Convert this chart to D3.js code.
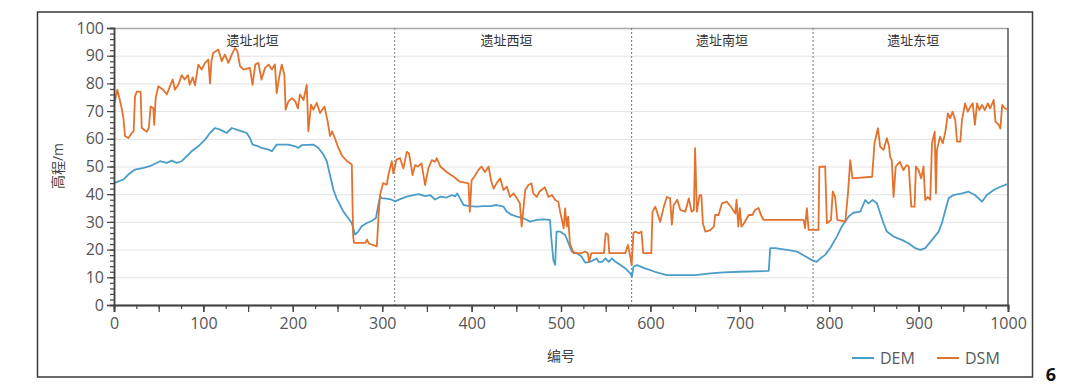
<!DOCTYPE html>
<html>
<head>
<meta charset="utf-8">
<script src="https://cdn.jsdelivr.net/npm/d3@7"></script>
<style>
  body { margin: 0; background: #fff; }
  svg text { font-family: "Open Sans", "Noto Sans CJK SC", sans-serif; }
</style>
</head>
<body>
<div id="content"></div>
<script>
// section names and their label centres / divider positions (in 编号 units)
let sectionNames = ["遗址北垣", "遗址西垣", "遗址南垣", "遗址东垣"];
let sectionCenters = [155, 439, 680, 894];
let sectionDividers = [314, 579, 782];

let xTicks = [0, 100, 200, 300, 400, 500, 600, 700, 800, 900, 1000];
let yTicks = [0, 10, 20, 30, 40, 50, 60, 70, 80, 90, 100];

// DEM profile, [编号, 高程]
let demPoints = [[0,44],[10.5,45.3],[16,47.1],[23.5,48.9],[33,49.5],[40,50.1],[51.5,51.9],[59,51.3],[64.6,52.1],[70,51.3],[75.7,51.9],[79.4,53.1],[86.8,55.5],[94.3,57.3],[101.8,59.7],[107.4,62.1],[113,63.9],[118.6,63.3],[122.4,62.7],[126,62.1],[131.7,63.9],[137.3,63.3],[142.9,62.7],[148.5,62.1],[152,60.3],[155,57.9],[161.6,57.3],[165,56.7],[173,56.1],[176.6,55.5],[182,57.9],[195,57.9],[202.8,57.3],[206,56.7],[210,57.7],[223,57.9],[228.7,56.7],[234.3,54.3],[238,51.9],[240.6,48.3],[242.8,45.3],[245.4,41.6],[249,38.5],[252.8,36.1],[256.6,33.7],[262,31.4],[265.9,29.6],[269.7,25.4],[273.4,26.6],[277,28.4],[282.9,29.6],[288.5,30.4],[293,31.4],[295,35],[297.6,39.2],[299.5,38.6],[305,38.4],[310.7,38],[314.5,37.4],[320,38.2],[327.5,39.1],[335,39.7],[340.6,40],[348,39.3],[353.6,39.7],[359,38.1],[365,39.1],[372,38.8],[378,39.7],[381.7,39.3],[384,40.3],[387,38.5],[391,36.1],[398,35.7],[405.6,35.5],[413,35.7],[420.6,35.7],[428,36.1],[435.7,35.5],[439.4,33.7],[445,32.5],[450.7,31.9],[458,31.3],[465.5,30.1],[473,30.7],[480.5,30.9],[487.7,30.7],[489,24.7],[491.5,16.2],[493.5,14.5],[495,26.5],[499,26.5],[504.6,25.3],[508.4,22.3],[512,19.3],[517.6,18.7],[523,17.5],[527,15.3],[532.6,15.6],[536.4,16.2],[540,16.8],[542,15.6],[546,15.6],[549.7,16.8],[553.5,15.6],[557,16.8],[561,15.6],[566.6,14.4],[572,13.2],[577.5,11.4],[579.3,10.2],[581,13.8],[585,14.4],[594,13.2],[605,12],[618.4,10.8],[650,10.8],[667,11.4],[682,11.8],[700.7,12],[732.4,12.3],[734,20.5],[739.7,20.5],[753,19.9],[764,19.3],[773.6,17.5],[780.7,16.2],[786,15.6],[790,16.8],[795.5,18.1],[801,20.5],[808.6,24.7],[814,28.3],[821.6,31.9],[827,33.3],[834.8,33.7],[840.3,37.9],[844,36.7],[848.5,37.9],[853.4,36.7],[857,33.1],[860.8,29.5],[864.5,26.5],[872,24.7],[881.3,23.5],[888.7,22.3],[896.3,20.5],[902,19.9],[907.4,20.5],[915,23.5],[922.4,26.5],[926,29.5],[930,34.3],[933.6,38.5],[939,39.7],[948.5,40.3],[956,40.9],[963,39.7],[971,37.3],[976.3,39.7],[984,41.5],[991.5,42.7],[1000,43.7]];

// DSM profile, [编号, 高程]
let dsmPoints = [[0,72],[3.7,77.7],[6,74.7],[8.6,71],[10.5,67.5],[12.3,61],[16,60.3],[19.8,62],[22,62.8],[23.5,75.3],[25.4,77],[29.8,77],[31,64],[36.6,62.5],[39,64],[41,71.7],[44,71],[45,65],[46.6,74.7],[49.6,79],[55,77.7],[59,76],[62.7,79],[65.7,81.4],[68,77.7],[72,79.5],[75.7,83],[79,81.4],[82.8,83],[84.7,79.5],[88,82.2],[90.6,79.3],[94.3,86.8],[98,85],[101.8,87.4],[105.5,88.6],[107.4,80],[109,88],[111,91],[116.7,92.2],[120.5,88],[124,90.4],[128,87.4],[131.7,90.4],[135.4,92.8],[138,91.6],[141,86.2],[145,85],[152,85.6],[155,79.5],[158,86.8],[161.5,87.4],[165,81.4],[169,85.6],[173,86.8],[176.6,85],[180,86.8],[182,76.5],[184.6,82],[187.6,86.8],[190.6,83],[192,70.5],[195,73.5],[199,74.7],[202.8,73.5],[205.7,71],[208,76],[212,74],[215.6,79.5],[217.4,62.7],[220.4,72.3],[223,70.5],[226.8,73],[230.5,69.3],[235.4,71.7],[239,66.3],[241.7,61],[244,62.7],[247,60.3],[251,56.7],[255.5,53.7],[260.4,52],[266,50.7],[267.5,24.8],[268.5,22.4],[281,22.4],[283,23.6],[285,22.2],[294,21.2],[296,32.6],[297.6,39.8],[301,44],[305,43.4],[307,47],[310.7,51.9],[312.5,47.5],[316,52.5],[320,53],[323.7,49.3],[327.5,55.3],[330,54.7],[334,46.9],[336.7,50.5],[340,50],[344,51.1],[348,43.3],[351.6,49.3],[355.5,52.3],[359,51.7],[361,53],[365,50],[372,48],[380,46.3],[387,44.5],[396.5,43.9],[398,33.7],[400,45],[403,46.3],[407.5,48.7],[411,50],[415,48],[419,50],[421.7,45],[424.7,42],[428,44],[432,45.7],[435.7,41.5],[439.4,42.7],[443,39],[447,40.3],[450.7,38.5],[454,36.7],[456,28.3],[460,41.5],[463.6,43.3],[467,43.9],[469,40.3],[473,39],[476,41],[482,42.5],[486,39],[490,39.7],[493.5,37.9],[497,37.3],[499,33.7],[501,30.7],[503,27.7],[504.6,34.9],[506.5,28.3],[508,31.9],[510,22.3],[514,18.7],[523,18.7],[527,19.3],[530,18.7],[531.5,15.6],[534,18.7],[548,18.7],[550,25.9],[552.6,25.3],[554,18.7],[572,18.7],[574.8,21.7],[577.5,17.5],[579,14.4],[581,25.9],[583,26.5],[587,25.9],[590,26.5],[592,18.7],[601,18.7],[602.4,33.7],[605.5,35.5],[611,30],[615,35.5],[618.4,39],[622,38.5],[624,29],[626,36],[630,38],[633.5,34.3],[639,33.7],[643,38.5],[646,33.7],[648.7,34.3],[650,56.6],[652,33.7],[655,39.7],[657,39.7],[658.7,29.5],[661.4,26.5],[667,27],[671,28.3],[672.5,32.5],[676.3,32.5],[680,36.7],[685.6,37.3],[691,35],[695,33],[696.4,38],[698.3,28.3],[700,35],[701.8,28.3],[704.7,29.5],[710,32.5],[714,32.5],[717,34.3],[721,35],[723.7,32.5],[726.6,30.7],[771.4,30.7],[773,27.7],[775,35],[777,27.1],[788,27.1],[789,49.9],[795.5,50],[797.4,29.5],[802,30.7],[804,41],[806.6,39],[809,30.7],[818,30.1],[821,40.3],[823.5,52.3],[826,45.7],[848,46.3],[850.7,58.4],[854.5,63.8],[857,57.2],[860.8,56],[864.5,60.2],[867,57.2],[868,53.6],[870,52.3],[872,39],[874.4,50],[879,51.7],[883,48.7],[886.6,50.5],[889,50],[891.8,35.5],[895.5,35.5],[897,50],[900,48.7],[903,45.7],[905.5,50],[907.4,37.9],[910,39],[913,38],[915,58.4],[918,62.6],[919.4,40.3],[920.5,56],[924,60.8],[927,58.4],[930,62.6],[932.8,69.2],[935.4,67.4],[938,69.8],[941,66.8],[943,59],[946.7,59],[948.5,66.8],[952,72.8],[955,69.8],[958,71.6],[960.5,72.8],[963,65],[965.4,72.8],[968,70.4],[971,72.2],[974,70.4],[977.5,72.8],[980,71],[984,74],[986,66.2],[989.7,65],[991.5,63.7],[993.5,72.2],[996.5,71],[1000,70.4]];

const demColor = "#4b9dc9",
    dsmColor = "#e2722d";

const margin = {top: 28, right: 72, bottom: 87, left: 114},
    width = 1080 - margin.left - margin.right,
    height = 392 - margin.top - margin.bottom;

let svg = d3.select("#content")
    .append("svg")
    .attr("width", 1080)
    .attr("height", 392);

// outer frame
svg.append("rect")
    .attr("x", 37.5)
    .attr("y", 12)
    .attr("width", 995)
    .attr("height", 365)
    .attr("fill", "none")
    .attr("stroke", "#3a3a3a")
    .attr("stroke-width", 1.5);

svg.append("text")
    .attr("x", 1051)
    .attr("y", 381)
    .attr("text-anchor", "middle")
    .style("font-size", "18px")
    .style("font-weight", "bold")
    .style("fill", "#111")
    .text("6");

let g = svg.append("g")
    .attr("transform", "translate(" + margin.left + "," + margin.top + ")");

const x = d3.scaleLinear().domain([0, 1000]).range([0, width]);
const y = d3.scaleLinear().domain([0, 100]).range([height, 0]);

// horizontal grid
g.append("g")
    .selectAll("line")
    .data(yTicks.filter(function(d) { return d > 0; }))
    .enter()
    .append("line")
    .attr("x1", 0)
    .attr("x2", width)
    .attr("y1", function(d) { return y(d) + 0.5; })
    .attr("y2", function(d) { return y(d) + 0.5; })
    .attr("stroke", function(d) { return d == 100 ? "#a8a8a8" : "#e3e3e3"; })
    .attr("stroke-width", function(d) { return d == 100 ? 1.5 : 1; });

// right border
g.append("line")
    .attr("x1", width).attr("x2", width)
    .attr("y1", 0).attr("y2", height)
    .attr("stroke", "#555")
    .attr("stroke-width", 1.5);

// dashed section dividers
g.append("g")
    .selectAll("line")
    .data(sectionDividers)
    .enter()
    .append("line")
    .attr("x1", function(d) { return x(d); })
    .attr("x2", function(d) { return x(d); })
    .attr("y1", 0)
    .attr("y2", height)
    .attr("stroke", "#7a7a7a")
    .attr("stroke-width", 1)
    .attr("stroke-dasharray", "2,2");

// section labels
g.append("g")
    .selectAll("text")
    .data(sectionNames)
    .enter()
    .append("text")
    .attr("x", function(d, i) { return x(sectionCenters[i]); })
    .attr("y", 17)
    .attr("text-anchor", "middle")
    .style("font-size", "13px")
    .style("fill", "#333")
    .text(function(d) { return d; });

let line = d3.line()
    .x(function(d) { return x(d[0]); })
    .y(function(d) { return y(d[1]); });

g.append("path")
    .datum(demPoints)
    .attr("fill", "none")
    .attr("stroke", demColor)
    .attr("stroke-width", 1.8)
    .attr("stroke-linejoin", "round")
    .attr("d", line);

g.append("path")
    .datum(dsmPoints)
    .attr("fill", "none")
    .attr("stroke", dsmColor)
    .attr("stroke-width", 1.8)
    .attr("stroke-linejoin", "round")
    .attr("d", line);

// Y axis: minor ticks every 2, labels every 10
let yMinor = g.append("g")
    .call(d3.axisLeft(y).tickValues(d3.range(0, 101, 2)).tickSize(4).tickFormat(""));
let yAxis = g.append("g")
    .call(d3.axisLeft(y).tickValues(yTicks).tickSize(7).tickPadding(3).tickFormat(d3.format("d")));

// X axis: minor ticks every 25, major every 50, labels every 100
let xMinor = g.append("g")
    .attr("transform", "translate(0," + height + ")")
    .call(d3.axisBottom(x).tickValues(d3.range(0, 1001, 25)).tickSize(4).tickFormat(""));
let xMajor = g.append("g")
    .attr("transform", "translate(0," + height + ")")
    .call(d3.axisBottom(x).tickValues(d3.range(0, 1001, 50)).tickSize(7).tickFormat(""));
let xAxis = g.append("g")
    .attr("transform", "translate(0," + height + ")")
    .call(d3.axisBottom(x).tickValues(xTicks).tickSize(7).tickPadding(6).tickFormat(d3.format("d")));

[yMinor, yAxis, xMinor, xMajor, xAxis].forEach(function(a) {
    a.selectAll("path.domain").attr("stroke", "#444").attr("stroke-width", 1.5);
    a.selectAll(".tick line").attr("stroke", "#444").attr("stroke-width", 1.2);
    a.selectAll(".tick text")
        .style("font-size", "16px")
        .style("fill", "#555")
        .style("font-family", "'Open Sans', sans-serif");
});

// axis titles
svg.append("text")
    .attr("transform", "translate(63,166) rotate(-90)")
    .attr("text-anchor", "middle")
    .style("font-size", "14px")
    .style("fill", "#444444")
    .text("高程/m");

svg.append("text")
    .attr("x", 561)
    .attr("y", 361)
    .attr("text-anchor", "middle")
    .style("font-size", "14px")
    .style("fill", "#444444")
    .text("编号");

// legend
let legendItems = [["DEM", demColor, 852], ["DSM", dsmColor, 937]];
legendItems.forEach(function(d) {
    svg.append("line")
        .attr("x1", d[2]).attr("x2", d[2] + 22)
        .attr("y1", 358).attr("y2", 358)
        .attr("stroke", d[1])
        .attr("stroke-width", 2);
    svg.append("text")
        .attr("x", d[2] + 28)
        .attr("y", 364)
        .style("font-size", "16px")
        .style("fill", "#595959")
        .text(d[0]);
});
</script>
</body>
</html>
